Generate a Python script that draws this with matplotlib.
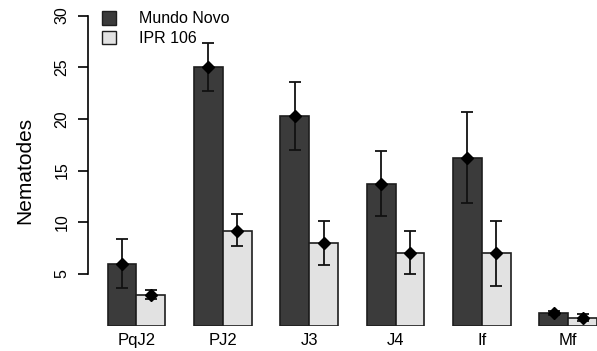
import numpy as np
import matplotlib
matplotlib.use("Agg")
import matplotlib.pyplot as plt
from matplotlib.patches import Patch

plt.rcParams['font.family'] = ['Liberation Sans', 'DejaVu Sans']

stages = ["PqJ2", "PJ2", "J3", "J4", "If", "Mf"]
mundo_novo = [6.0, 25.05, 20.3, 13.75, 16.25, 1.2]
mundo_novo_lo = [3.6, 22.7, 17.0, 10.6, 11.9, 1.0]
mundo_novo_hi = [8.35, 27.3, 23.55, 16.9, 20.65, 1.45]
ipr106 = [3.0, 9.2, 8.0, 7.0, 7.0, 0.7]
ipr106_lo = [2.55, 7.7, 5.85, 5.0, 3.8, 0.45]
ipr106_hi = [3.5, 10.8, 10.1, 9.15, 10.1, 1.1]

W, H = 597, 351
fig = plt.figure(figsize=(W / 100, H / 100), dpi=100)
# axes placed in pixel units to match the reference layout
left, right = 87.7, 597.0
bottom, top = 325.7, 15.5
ax = fig.add_axes([left / W, 1 - bottom / H, (right - left) / W, (bottom - top) / H])

x = np.arange(len(stages)) * 3
dark = x + 1.5
light = x + 2.5

ax.bar(dark, mundo_novo, width=1.0, color="#3b3b3b", edgecolor="#1e1e1e", linewidth=1.2, label="Mundo Novo")
ax.bar(light, ipr106, width=1.0, color="#e2e2e2", edgecolor="#1e1e1e", linewidth=1.2, label="IPR 106")

for xs, m, lo, hi in [(dark, mundo_novo, mundo_novo_lo, mundo_novo_hi), (light, ipr106, ipr106_lo, ipr106_hi)]:
    m = np.array(m)
    err = [m - np.array(lo), np.array(hi) - m]
    ax.errorbar(xs, m, yerr=err, fmt="D", color="black", markersize=6.5,
                ecolor="#111111", elinewidth=1.3, capsize=4.5, capthick=1.3, clip_on=False)

ax.set_xlim(1 - 20 / 28.77, 18.0)
ax.set_ylim(0, 30)
ax.set_yticks([5, 10, 15, 20, 25, 30])
ax.spines['left'].set_bounds(5, 30)
ax.spines['left'].set_linewidth(1.2)
for s in ['top', 'right', 'bottom']:
    ax.spines[s].set_visible(False)
ax.tick_params(axis='y', length=7, width=1.2, labelsize=11.5, pad=6)
for t in ax.get_yticklabels():
    t.set_rotation(90)
    t.set_va('center')
ax.set_xticks(x + 2)
ax.set_xticklabels(stages, fontsize=12)
ax.tick_params(axis='x', length=0, pad=5)
ax.set_ylabel("Nematodes", fontsize=15, labelpad=15)

handles = [Patch(facecolor="#3b3b3b", edgecolor="#1e1e1e"),
           Patch(facecolor="#e2e2e2", edgecolor="#1e1e1e")]
ax.legend(handles, ["Mundo Novo", "IPR 106"], loc="upper left", bbox_to_anchor=(0.0, 1.06),
          frameon=False, fontsize=11.5, handlelength=0.9, handleheight=0.9,
          handletextpad=1.4, labelspacing=0.3)

fig.savefig("out.png", dpi=100)
